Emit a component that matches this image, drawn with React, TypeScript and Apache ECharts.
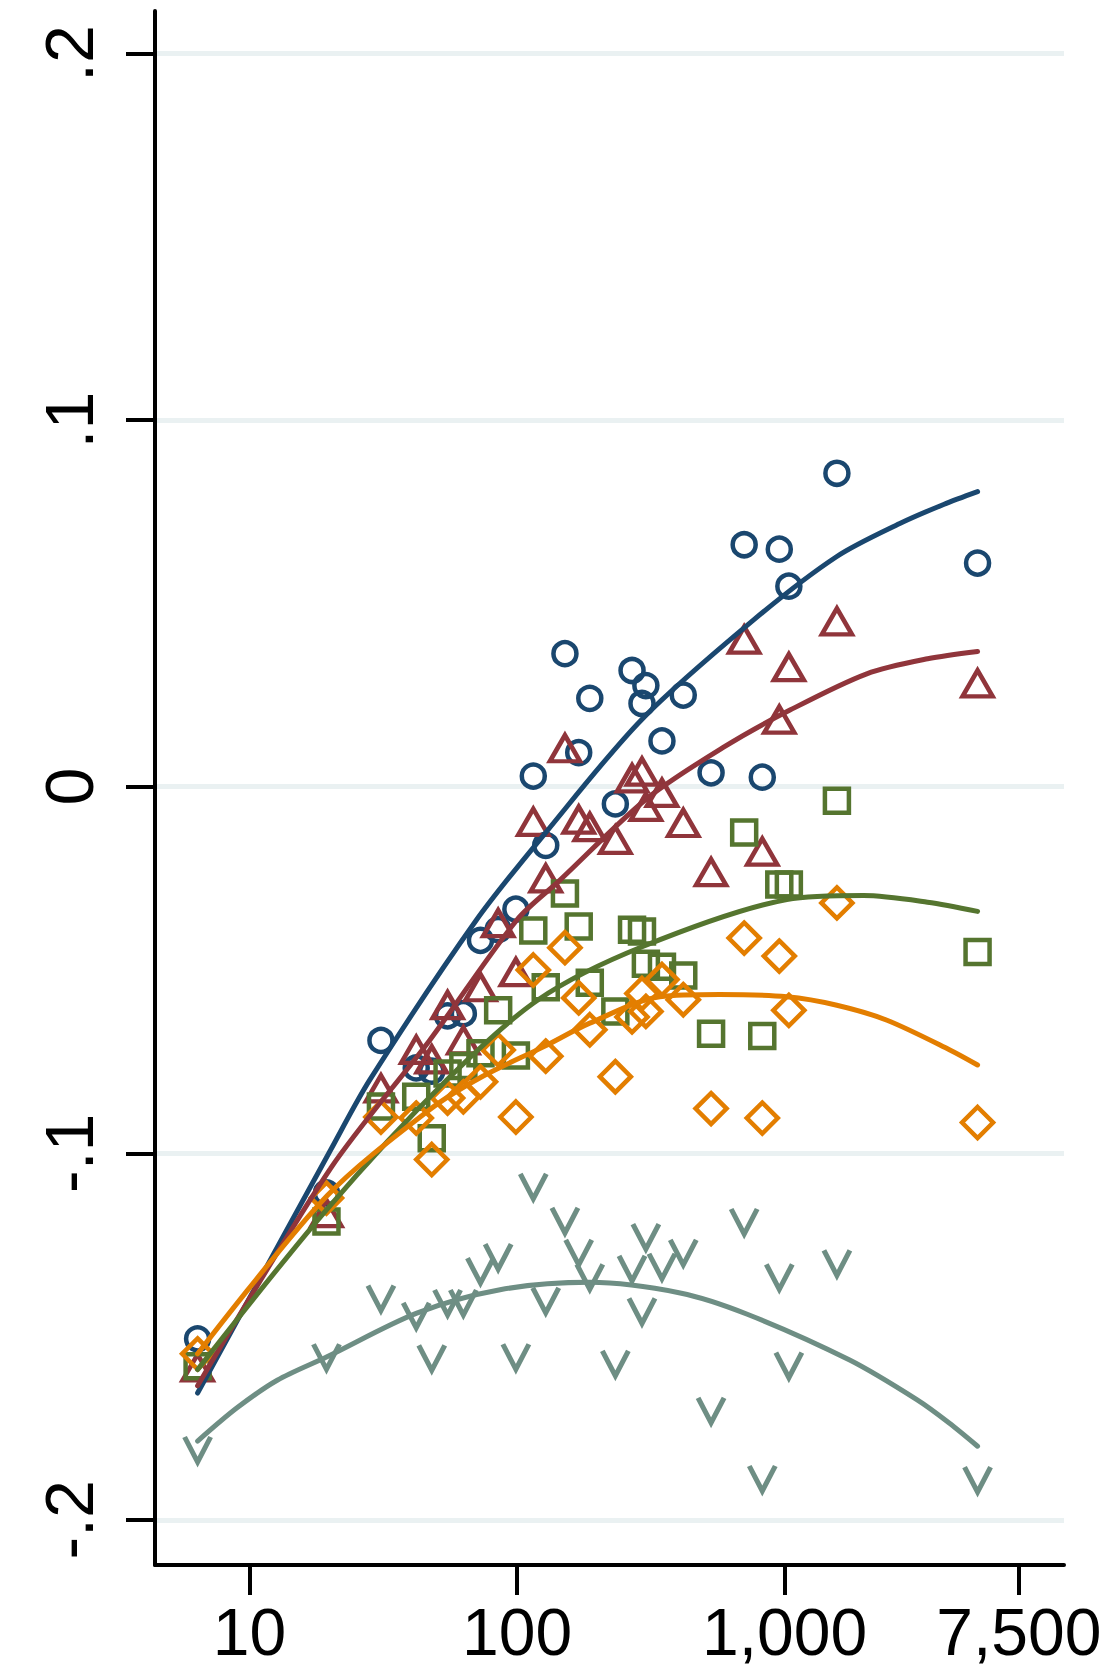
import React, { useEffect, useRef } from "react";
import * as echarts from "echarts";

// sample sizes (x, log scale)
const xVals = [6.4, 19.4, 31, 42, 48, 55, 63, 73, 85, 99, 115, 128, 151, 170, 187, 233, 269, 293, 303, 348, 418, 531, 706, 825, 955, 1037, 1568, 5260];

const navyPts = [-0.1506, -0.1108, -0.0692, -0.0767, -0.0776, -0.0625, -0.0619, -0.0419, -0.039, -0.0334, 0.0029, -0.016, 0.0363, 0.0093, 0.0241, -0.0047, 0.0317, 0.0227, 0.0276, 0.0125, 0.025, 0.0038, 0.066, 0.0026, 0.0648, 0.0547, 0.0855, 0.061];
const maroonPts = [-0.1584, -0.1163, -0.0823, -0.0718, -0.0744, -0.0596, -0.0692, -0.0547, -0.0372, -0.0506, -0.0096, -0.025, 0.0105, -0.009, -0.011, -0.0145, 0.0023, 0.0041, -0.0055, -0.0017, -0.0099, -0.0233, 0.0401, -0.0177, 0.0183, 0.0326, 0.0451, 0.0282];
const greenPts = [-0.1581, -0.1186, -0.0872, -0.0846, -0.0959, -0.0782, -0.0762, -0.0727, -0.061, -0.0733, -0.0392, -0.0547, -0.0291, -0.0381, -0.0535, -0.0613, -0.039, -0.0395, -0.0483, -0.0491, -0.0515, -0.0674, -0.0125, -0.068, -0.0267, -0.0267, -0.0038, -0.0451];
const orangePts = [-0.1547, -0.1122, -0.0901, -0.0904, -0.1017, -0.0849, -0.0846, -0.0805, -0.0718, -0.0901, -0.05, -0.0735, -0.0439, -0.0576, -0.0663, -0.0791, -0.0628, -0.0564, -0.0613, -0.0526, -0.0581, -0.0878, -0.0413, -0.0904, -0.0462, -0.061, -0.0317, -0.0916];
const tealPts = [-0.1808, -0.1555, -0.1395, -0.1442, -0.1558, -0.1407, -0.1407, -0.132, -0.1282, -0.1555, -0.109, -0.1401, -0.1183, -0.127, -0.1337, -0.1573, -0.1314, -0.143, -0.1227, -0.1308, -0.127, -0.1701, -0.1186, -0.1887, -0.1337, -0.1578, -0.1299, -0.189];

// fitted curves
const navyFitX = [6.4, 20.1, 28.2, 70.6, 128, 292, 760, 1567, 2694, 3926, 5260];
const navyFitY = [-0.1654, -0.0991, -0.0799, -0.0363, -0.0125, 0.0183, 0.0453, 0.0628, 0.0718, 0.077, 0.0805];
const maroonFitX = [6.4, 20.1, 47.1, 100, 144, 306, 598, 1047, 2027, 3420, 5260];
const maroonFitY = [-0.1634, -0.1041, -0.0692, -0.0363, -0.0256, -0.0032, 0.011, 0.0209, 0.0308, 0.0349, 0.0369];
const greenFitX = [6.4, 19.4, 54.6, 120, 295, 1019, 1971, 3420, 5260];
const greenFitY = [-0.159, -0.1154, -0.08, -0.0581, -0.0436, -0.0308, -0.0297, -0.0315, -0.034];
const orangeFitX = [6.4, 19.5, 47.1, 73.9, 126, 187, 342, 571, 1019, 1567, 2413, 4145, 5260];
const orangeFitY = [-0.1547, -0.1116, -0.0881, -0.0791, -0.0709, -0.0645, -0.0573, -0.0567, -0.0573, -0.0596, -0.0637, -0.0718, -0.0759];
const tealFitX = [6.4, 8.96, 12.7, 19.5, 42.2, 86.4, 187, 407, 725, 1750, 3119, 4108, 5260];
const tealFitY = [-0.1785, -0.1695, -0.1619, -0.1555, -0.1436, -0.1372, -0.1352, -0.1381, -0.1439, -0.1564, -0.1672, -0.1735, -0.1799];

const yTicks = [-0.2, -0.1, 0, 0.1, 0.2];
const xTicks = [10, 100, 1000, 7500];

const NAVY = "#1a476f";
const MAROON = "#90353b";
const GREEN = "#55752f";
const ORANGE = "#e37e00";
const TEAL = "#6e8e84";

const FONT = "'Liberation Sans', Arial, Helvetica, sans-serif";

function pts(ys: number[]) {
  return xVals.map((x, i) => [Math.log10(x), ys[i]]);
}
function fit(xs: number[], ys: number[]) {
  return xs.map((x, i) => [Math.log10(x), ys[i]]);
}

function scatter(ys: number[], symbol: string, size: any, color: string, bw = 4.5) {
  return {
    type: "scatter",
    data: pts(ys),
    symbol,
    symbolSize: size,
    itemStyle: { color: "rgba(0,0,0,0)", borderColor: color, borderWidth: bw, opacity: 1 },
    silent: true,
  };
}
function line(xs: number[], ys: number[], color: string) {
  return {
    type: "line",
    data: fit(xs, ys),
    smooth: 0.3,
    showSymbol: false,
    symbol: "none",
    lineStyle: { color, width: 5, cap: "round", opacity: 1 },
    silent: true,
  };
}

function yFmt(v: number) {
  const r = Math.round(v * 10) / 10;
  if (r === 0) return "0";
  const s = Math.abs(r).toString().replace(/^0/, "");
  return (r < 0 ? "-" : "") + s;
}

export default function App() {
  const ref = useRef<HTMLDivElement>(null);
  useEffect(() => {
    const chart = echarts.init(ref.current!, null, { renderer: "svg" });
    const xTickVals = xTicks.map((v) => Math.log10(v));
    chart.setOption({
      animation: false,
      backgroundColor: "#ffffff",
      grid: { left: 155, right: 49, top: 11, bottom: 106, containLabel: false },
      xAxis: {
        type: "value",
        min: 0.647,
        max: 4.044,
        axisLine: { show: true, onZero: false, lineStyle: { color: "#000", width: 4 } },
        axisTick: { show: true, length: 30, customValues: xTickVals, lineStyle: { color: "#000", width: 4 } },
        axisLabel: {
          show: true,
          customValues: xTickVals,
          fontSize: 66,
          lineHeight: 40,
          fontFamily: FONT,
          color: "#000",
          margin: 47,
          formatter: (v: number) => Math.round(Math.pow(10, v)).toLocaleString("en-US"),
        },
        splitLine: { show: false },
      },
      yAxis: {
        type: "value",
        min: -0.2123,
        max: 0.2116,
        axisLine: { show: true, lineStyle: { color: "#000", width: 4 } },
        axisTick: { show: true, length: 29, customValues: yTicks, lineStyle: { color: "#000", width: 4 } },
        axisLabel: {
          show: true,
          customValues: yTicks,
          rotate: 90,
          fontSize: 68,
          fontFamily: FONT,
          color: "#000",
          margin: 52,
          formatter: yFmt,
        },
        splitLine: { show: true, lineStyle: { color: "#eaf1f2", width: 5 } },
      },
      series: [
        scatter(navyPts, "circle", 23, NAVY),
        scatter(maroonPts, "triangle", [30, 26], MAROON),
        scatter(greenPts, "rect", 24, GREEN),
        scatter(orangePts, "diamond", 31, ORANGE),
        scatter(tealPts, "path://M0,0 L5,10 L10,0", [26, 25], TEAL, 5),
        line(navyFitX, navyFitY, NAVY),
        line(maroonFitX, maroonFitY, MAROON),
        line(greenFitX, greenFitY, GREEN),
        line(orangeFitX, orangeFitY, ORANGE),
        line(tealFitX, tealFitY, TEAL),
      ],
    });
    return () => chart.dispose();
  }, []);
  return (
    <div
      ref={ref}
      style={{ position: "absolute", left: 0, top: 0, width: 1113, height: 1671, background: "#fff" }}
    />
  );
}
